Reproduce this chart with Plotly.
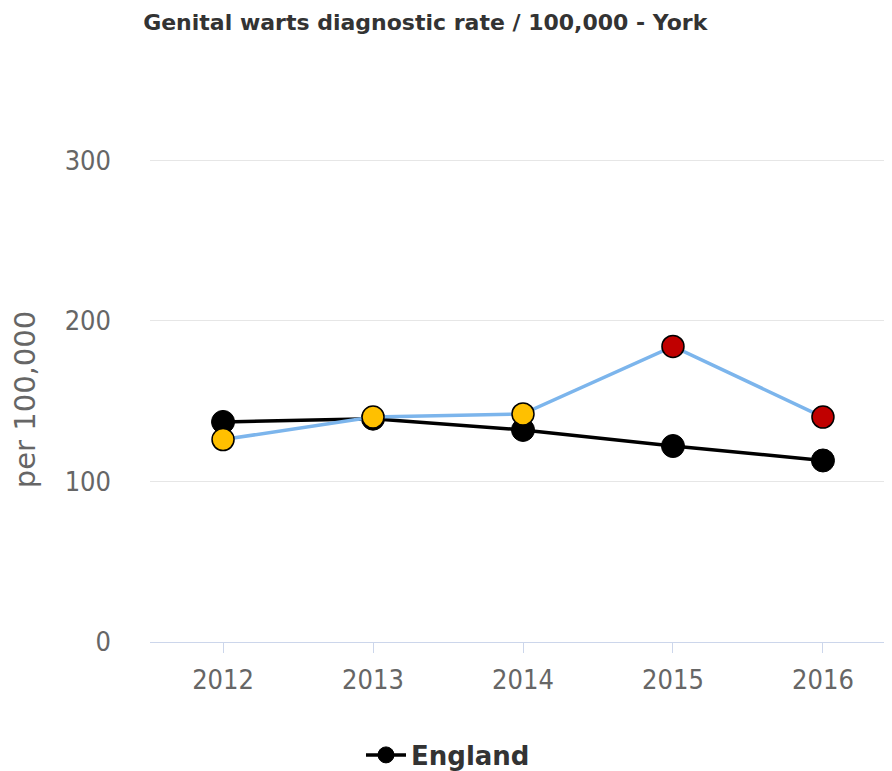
import plotly.graph_objects as go

years = ["2012", "2013", "2014", "2015", "2016"]
england = [137, 139, 132, 122, 113]
york = [126, 140, 142, 184, 140]
york_colors = ["#FFC000", "#FFC000", "#FFC000", "#C00000", "#C00000"]

FONT = "DejaVu Sans Condensed, DejaVu Sans, sans-serif"
WIDE = "DejaVu Sans, sans-serif"

fig = go.Figure()
fig.add_trace(go.Scatter(
    x=years, y=england, mode="lines+markers", name="<b>England</b>",
    line=dict(color="#000000", width=3.5),
    marker=dict(size=23, color="#000000", line=dict(color="#000000", width=1)),
))
fig.add_trace(go.Scatter(
    x=years, y=york, mode="lines+markers", name="York", showlegend=False,
    line=dict(color="#7cb5ec", width=3.5),
    marker=dict(size=22, color=york_colors, line=dict(color="#000000", width=1.5)),
))

fig.update_layout(
    width=884, height=763,
    margin=dict(l=142, r=2, t=149, b=129),
    plot_bgcolor="white", paper_bgcolor="white",
    font=dict(family=FONT, color="#666666"),
    title=dict(text="<b>Genital warts diagnostic rate / 100,000 - York</b>",
               x=0.472, xanchor="center", y=1 - 14 / 763, yanchor="middle",
               font=dict(size=22, color="#333333", family=WIDE)),
    xaxis=dict(type="category", range=[-0.487, 4.447], showgrid=False,
               showline=True, linecolor="#ccd6eb", linewidth=1,
               ticks="outside", ticklen=10, tickcolor="#ccd6eb",
               ticklabelstandoff=4,
               tickfont=dict(size=27, color="#666666"), zeroline=False),
    yaxis=dict(range=[0, 301.9], tickvals=[0, 100, 200, 300],
               showgrid=True, gridcolor="#e6e6e6", gridwidth=1,
               zeroline=False, showline=False,
               tickfont=dict(size=27, color="#666666"), ticklabelstandoff=38,
               title=dict(text="per 100,000", font=dict(size=29, color="#666666", family=WIDE),
                          standoff=25)),
    legend=dict(orientation="h", xref="container", yref="container",
                x=353 / 884, xanchor="left", y=1 - 747 / 763, yanchor="middle",
                font=dict(size=26, color="#333333", family=WIDE),
                itemwidth=40, title=dict(text="")),
)
fig.write_html("out.html")
